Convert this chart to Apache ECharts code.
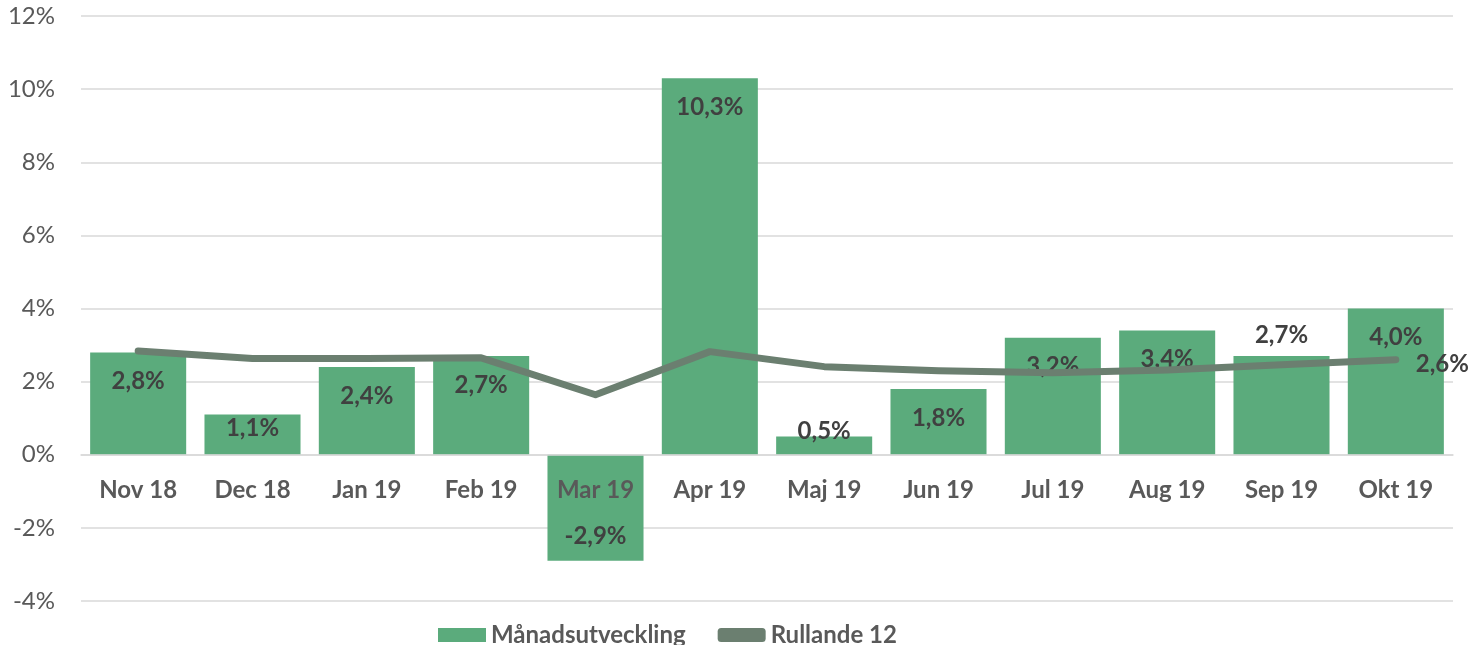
<!DOCTYPE html>
<html>
<head>
<meta charset="utf-8">
<script src="https://cdn.jsdelivr.net/npm/echarts@6/dist/echarts.min.js"></script>
<style>
  html, body { margin: 0; padding: 0; background: #fff; }
  #chart { width: 1479px; height: 645px; }
</style>
</head>
<body>
<div id="chart"></div>
<script>
// manader
var categories = ['Nov 18', 'Dec 18', 'Jan 19', 'Feb 19', 'Mar 19', 'Apr 19', 'Maj 19', 'Jun 19', 'Jul 19', 'Aug 19', 'Sep 19', 'Okt 19'];
var manadsutveckling = [2.8, 1.1, 2.4, 2.7, -2.9, 10.3, 0.5, 1.8, 3.2, 3.4, 2.7, 4.0];
var rullande12 = [2.84, 2.63, 2.63, 2.65, 1.64, 2.82, 2.41, 2.3, 2.24, 2.32, 2.46, 2.6];
var yTicks = [-4, -2, 0, 2, 4, 6, 8, 10, 12];

var FONT = 'Lato';
var W = 1479, H = 645;
var GRID_TOP = 16, GRID_BOTTOM = 44;

function pct(v) {
    return v.toFixed(1).replace('.', ',') + '%';
}

// x-axeln ska ligga vid 0 (onZero fungerar inte här), räkna ut avståndet från botten
var yMin = yTicks[0], yMax = yTicks[yTicks.length - 1];
var zeroOffset = (H - GRID_TOP - GRID_BOTTOM) * (0 - yMin) / (yMax - yMin);

// etikett-placering per stapel (som i Excel)
var barData = manadsutveckling.map(function (v, i) {
    var item = { value: v };
    if (v < 0) {
        item.label = { position: 'insideBottom', distance: 13 };
    } else if (i === 1) {
        item.label = { position: 'insideTop', distance: 2 };
    } else if (i === 6) {
        item.label = { position: 'top', distance: -7 };
    } else if (i === 10) {
        item.label = { position: 'top', distance: 9 };
    }
    return item;
});

var dom = document.getElementById('chart');
var myChart = echarts.init(dom);
myChart.setOption({
    animation: false,
    grid: {
        left: 81,
        right: 26,
        top: GRID_TOP,
        bottom: GRID_BOTTOM,
        containLabel: false
    },
    legend: {
        left: 433,
        top: 618,
        itemGap: 32,
        itemWidth: 48,
        itemHeight: 14,
        textStyle: {
            fontFamily: FONT,
            fontSize: 24,
            fontWeight: 'bold',
            color: '#595959'
        },
        data: [
            { name: 'Månadsutveckling', icon: 'rect' },
            { name: 'Rullande 12', icon: 'roundRect' }
        ]
    },
    xAxis: {
        type: 'category',
        data: categories,
        z: 10,
        offset: -zeroOffset,
        axisLine: { onZero: false, lineStyle: { color: '#d9d9d9', width: 1.5 } },
        axisTick: { show: false },
        axisLabel: {
            margin: 24,
            fontFamily: FONT,
            fontSize: 24,
            fontWeight: 'bold',
            color: '#595959'
        }
    },
    yAxis: {
        type: 'value',
        min: yMin,
        max: yMax,
        interval: 2,
        axisLine: { show: false },
        axisTick: { show: false },
        splitLine: { lineStyle: { color: '#d9d9d9', width: 1.5 } },
        axisLabel: {
            margin: 26,
            fontFamily: FONT,
            fontSize: 24,
            color: '#595959',
            formatter: function (v) { return v + '%'; }
        }
    },
    series: [
        {
            name: 'Månadsutveckling',
            type: 'bar',
            barCategoryGap: '16%',
            itemStyle: { color: '#5bab7c' },
            label: {
                show: true,
                position: 'insideTop',
                distance: 17,
                fontFamily: FONT,
                fontSize: 24,
                fontWeight: 'bold',
                color: '#404040',
                formatter: function (p) { return pct(p.value); }
            },
            data: barData
        },
        {
            name: 'Rullande 12',
            type: 'line',
            showSymbol: false,
            symbol: 'none',
            z: 5,
            itemStyle: { color: '#6b7f70' },
            lineStyle: { color: '#6b7f70', width: 7, cap: 'round', join: 'round' },
            endLabel: {
                show: true,
                distance: 20,
                offset: [0, 5],
                fontFamily: FONT,
                fontSize: 24,
                fontWeight: 'bold',
                color: '#404040',
                formatter: function (p) { return pct(p.value); }
            },
            data: rullande12
        }
    ]
});
window.addEventListener('resize', function () {
    myChart.resize();
});
</script>
</body>
</html>
